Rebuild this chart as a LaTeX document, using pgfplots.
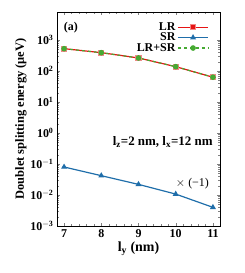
\documentclass[border=0pt]{standalone}
\usepackage{pgfplots}
\pgfplotsset{compat=1.18}
\usepackage{fontspec}
\setmainfont{Liberation Serif}
\definecolor{lrred}{RGB}{230,20,20}
\definecolor{srblue}{RGB}{31,110,170}
\definecolor{lgreen}{RGB}{70,170,50}
\begin{document}
\begin{tikzpicture}
\begin{axis}[
  scale only axis, width=163bp, height=214bp,
  ymode=log, xmin=6.81, xmax=11.19, ymin=1e-3, ymax=8e3,
  xtick={7,8,9,10,11}, minor x tick num=4,
  ytick={1e-3,1e-2,1e-1,1,10,100,1000},
  yticklabels={\textbf{10}$^{\mathbf{-3}}$,\textbf{10}$^{\mathbf{-2}}$,\textbf{10}$^{\mathbf{-1}}$,\textbf{10}$^{\mathbf{0}}$,\textbf{10}$^{\mathbf{1}}$,\textbf{10}$^{\mathbf{2}}$,\textbf{10}$^{\mathbf{3}}$},
  yminorticks=true,
  minor tick length=2pt, major tick length=3.5pt,
  tick align=inside, tick pos=both,
  font=\fontsize{12}{14}\selectfont\bfseries,
  tick label style={font=\fontsize{12}{14}\selectfont\bfseries},
  /pgf/number format/assume math mode=true,
  xlabel={\fontsize{14}{16}\selectfont\bfseries l$_{\mathbf{y}}$ (nm)},
  ylabel={\fontsize{12.5}{14}\selectfont\bfseries Doublet splitting energy (μeV)},
  ylabel style={yshift=-3pt},
  xlabel style={yshift=3pt},
  legend style={draw=none, fill=none, at={(0.95,0.97)}, anchor=north east, legend cell align=right, font=\fontsize{12}{14}\selectfont\bfseries, row sep=-3pt},
  legend plot pos=right,
  legend image code/.code={%
    \draw[#1,mark=none] (0bp,0bp) -- (30bp,0bp);
    \draw[#1,only marks] plot coordinates {(15bp,0bp)};},
]
\addplot[lrred, line width=1.2pt, mark=square*, mark size=2.5pt, mark options={fill=lrred, draw=lrred!50}] coordinates {(7,525) (8,390) (9,263) (10,138) (11,63)};
\addlegendentry{LR}
\addplot[srblue, line width=1.2pt, mark=triangle*, mark size=2.3pt] coordinates {(7,0.080) (8,0.042) (9,0.022) (10,0.0107) (11,0.0040)};
\addlegendentry{SR}
\addplot[lgreen, line width=1.2pt, dashed, mark=*, mark size=2.2pt, mark options={solid}] coordinates {(7,525) (8,390) (9,263) (10,138) (11,63)};
\addlegendentry{LR+SR}
\node[anchor=west] at (axis cs:6.9,2500) {(a)};
\node[anchor=center] at (axis cs:9.65,0.5) {\fontsize{13}{15}\selectfont l$_{\mathbf{z}}$=2 nm, l$_{\mathbf{x}}$=12 nm};
\node[anchor=center,font=\fontsize{12}{14}\selectfont\mdseries] at (axis cs:10.45,0.024) {$\times$ (−1)};
\end{axis}
\path (current axis.south west) ++(-57bp,-47bp) coordinate (bl);
\path (current axis.north east) ++(25bp,12bp) coordinate (tr);
\useasboundingbox (bl) rectangle (tr);
\end{tikzpicture}
\end{document}
